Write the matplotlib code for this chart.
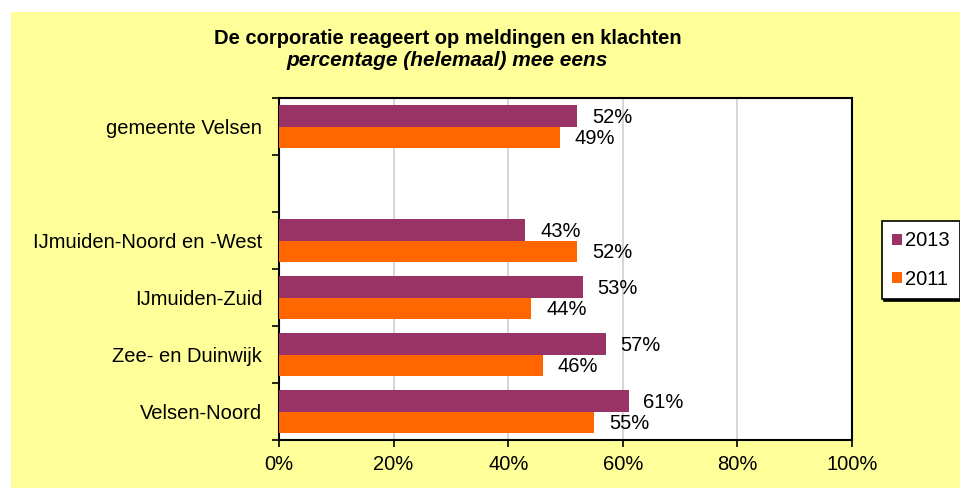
import numpy as np
import matplotlib.pyplot as plt
from matplotlib.patches import Rectangle

plt.rcParams['font.family'] = ['Liberation Sans', 'DejaVu Sans']

categories = ["gemeente Velsen", "", "IJmuiden-Noord en -West", "IJmuiden-Zuid",
              "Zee- en Duinwijk", "Velsen-Noord"]
values_2013 = [52, None, 43, 53, 57, 61]
values_2011 = [49, None, 52, 44, 46, 55]

col_2013 = "#993366"
col_2011 = "#FF6600"
fs = 14.5

fig = plt.figure(figsize=(9.6, 4.88), dpi=100, facecolor="white")
# yellow chart area
fig.patches.append(Rectangle((11 / 960, 0), 1, (488 - 12) / 488, transform=fig.transFigure,
                             facecolor="#FFFF99", edgecolor="none", zorder=-10))

ax = fig.add_axes([279 / 960, 48 / 488, 573 / 960, 342 / 488])
ax.set_facecolor("white")

y = np.arange(len(categories))
h = 0.375
for vals, off, col, lab in [(values_2013, -h / 2, col_2013, "2013"),
                            (values_2011, h / 2, col_2011, "2011")]:
    ys = [yy + off for yy, v in zip(y, vals) if v is not None]
    vs = [v for v in vals if v is not None]
    ax.barh(ys, vs, height=h, color=col, label=lab, zorder=3)
    for yy, v in zip(ys, vs):
        ax.text(v + 2.6, yy + 0.03, f"{v}%", va="center", ha="left", fontsize=fs, color="black")

ax.set_xlim(0, 100)
ax.set_ylim(len(categories) - 0.5, -0.5)
ax.set_xticks(range(0, 101, 20))
ax.set_xticklabels([f"{t}%" for t in range(0, 101, 20)], fontsize=fs)
ax.set_yticks(y)
ax.set_yticklabels(categories, fontsize=fs)
ax.set_yticks(np.arange(-0.5, len(categories)), minor=True)
ax.tick_params(axis="y", which="major", length=0, pad=12)
ax.tick_params(axis="y", which="minor", length=5, width=1.2)
ax.tick_params(axis="x", length=5, width=1.2, pad=6)
ax.grid(axis="x", color="#D0D0D0", linewidth=1.2, zorder=0)
for s in ax.spines.values():
    s.set_linewidth(1.5)
    s.set_color("black")

fig.text(0.466, 0.922, "De corporatie reageert op meldingen en klachten", ha="center",
         va="center", fontsize=14.5, fontweight="bold")
fig.text(0.466, 0.877, "percentage (helemaal) mee eens", ha="center", va="center",
         fontsize=15, fontstyle="italic", fontweight="bold")

leg = ax.legend(loc="center left", bbox_to_anchor=(882 / 960, 228 / 488), bbox_transform=fig.transFigure,
                fontsize=fs, frameon=True, fancybox=False, edgecolor="black",
                shadow={"color": "black", "alpha": 1, "ox": 1.5, "oy": -1.5},
                handlelength=0.5, handleheight=0.5, handletextpad=0.15, labelspacing=0.95,
                borderpad=0.5, borderaxespad=0)
leg.get_frame().set_linewidth(1.2)

fig.savefig("out.png", dpi=100, facecolor=fig.get_facecolor())
